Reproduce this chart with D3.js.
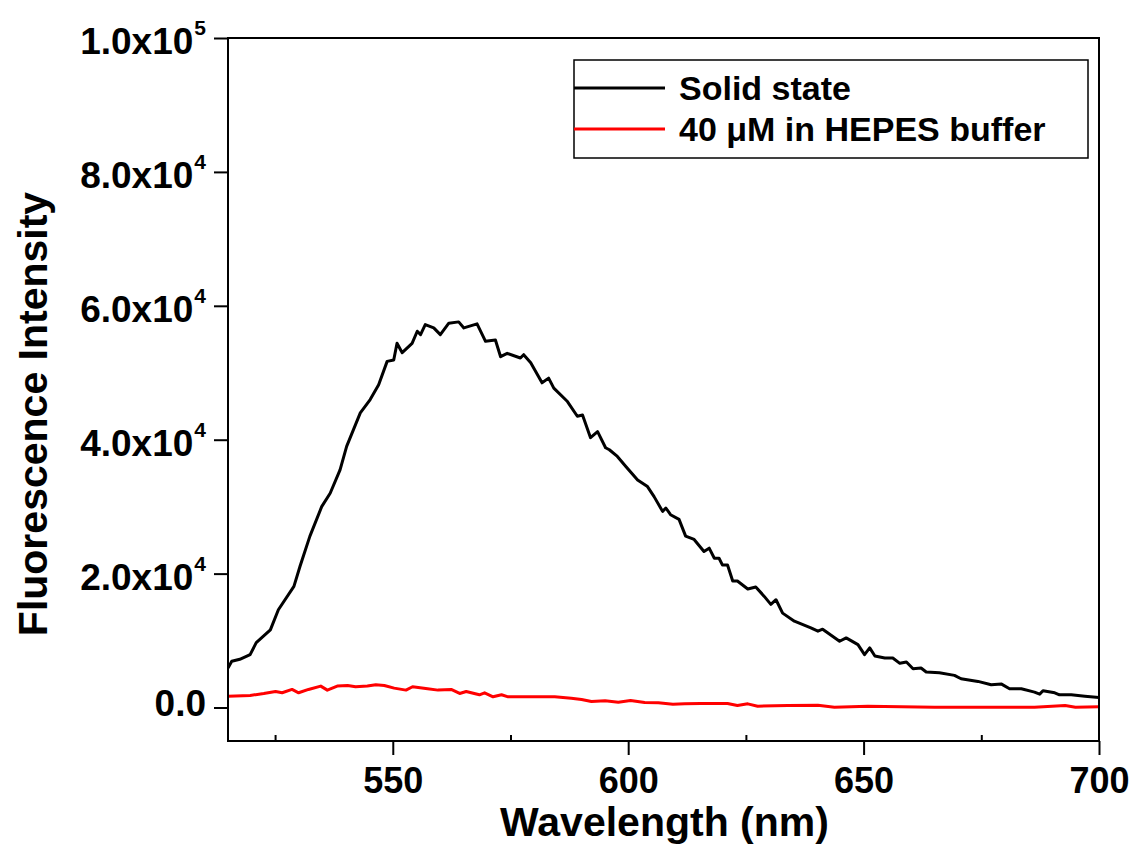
<!DOCTYPE html>
<html>
<head>
<meta charset="utf-8">
<script src="https://cdn.jsdelivr.net/npm/d3@7"></script>
<style>
  html, body { margin: 0; padding: 0; background: #fff; }
  svg { display: block; }
  text { font-family: "Liberation Sans", Arial, sans-serif; font-weight: bold; fill: #000; }
</style>
</head>
<body>
<svg id="chart" width="1137" height="849"></svg>
<script>
// ---- Data ----
const solidWavelength = [515,515.8,517.5,519.7,521,524,525.7,529,530.3,532.4,534.9,536.7,538.8,540.2,543.1,545.2,547,548.8,550.2,550.9,552,554.1,555.2,555.9,556.9,558.7,560.1,561.9,564,565.1,567.9,569.7,571.8,572.9,574.3,577.1,577.8,579.3,581.7,583.1,584.2,587.1,589.2,590.3,592,593.5,595.2,596,597.7,599.5,602,604.1,605.5,607.3,608,609,610.8,612.2,614,616.1,617.2,618.3,619.3,620,621.1,622.2,623.2,625.4,627.1,628.9,630.3,631.4,632.8,635.3,638.8,640.3,641.3,644.9,646.3,648.8,650.2,651.3,652.4,654.5,656.2,657.7,659.1,660.5,662.2,663.3,666.1,669.3,670.7,674.3,677.1,679.3,681,683.5,686.3,687.4,688.1,690.6,691.6,694.1,697,700];
const solidIntensity = [5900,6900,7200,7900,9700,11600,14600,18100,21100,25600,30000,32000,35500,39000,44000,46000,48200,51700,51900,54400,53000,54400,56200,55700,57200,56700,55700,57400,57600,56700,57300,54700,54900,52400,52900,52200,52700,51500,48500,49200,47700,45700,43500,43700,40300,41200,38800,38500,37500,36000,34000,33000,31500,29300,29800,28800,28100,25600,25100,23300,23800,22300,22300,21300,21300,18900,18900,17700,18000,16600,15400,16100,14100,12900,11900,11400,11700,9900,10400,9400,7900,8900,7700,7400,7400,6600,6800,5800,5900,5300,5200,4800,4300,3900,3400,3500,2800,2800,2300,2000,2500,2200,1900,1900,1700,1500];

const bufferWavelength = [515,519.7,522.6,525.1,526.5,528.6,530,532.1,534.7,536.1,538.2,540.4,542.1,544.6,546.4,548.2,550.3,552.8,554.2,557.4,559.6,562.4,564.2,565.6,568.4,569.5,571.3,573.1,574.5,579.4,584.4,587.9,590.1,592.2,595.1,597.9,600.5,603.5,606.4,609.5,612,615.4,621.1,623.2,625.4,627.5,633.9,640.3,643.8,650.9,658,665.1,672.2,679.3,686.3,692.8,695,700];
const bufferIntensity = [1700,1800,2100,2400,2200,2700,2200,2700,3200,2600,3200,3300,3100,3200,3400,3300,2900,2600,3100,2800,2600,2700,2100,2400,1900,2200,1600,1900,1600,1600,1600,1400,1200,900,1000,800,1050,750,700,500,550,600,600,300,550,200,300,350,50,200,100,50,50,50,50,300,50,100];

const seriesNames = ["Solid state", "40 \u03BCM in HEPES buffer"];
const seriesColors = ["#000000", "#ff0000"];

const xTicks = [550, 600, 650, 700];
const xMinorTicks = [525, 575, 625, 675];
const yTicks = [0, 20000, 40000, 60000, 80000, 100000];
const yTickMantissa = ["0.0", "2.0x10", "4.0x10", "6.0x10", "8.0x10", "1.0x10"];
const yTickExponent = ["", "4", "4", "4", "4", "5"];

const xTitle = "Wavelength (nm)";
const yTitle = "Fluorescence Intensity";

// ---- Layout ----
const svg = d3.select("#chart");
const L = 228, R = 1099, T = 38, B = 741;

const x = d3.scaleLinear().domain([515, 700]).range([L, R]);
const y = d3.scaleLinear().domain([-5000, 100000]).range([B, T]);

svg.append("rect").attr("width", 1137).attr("height", 849).attr("fill", "#fff");

svg.append("defs").append("clipPath").attr("id", "clip")
  .append("rect").attr("x", L).attr("y", T).attr("width", R - L).attr("height", B - T);

// ---- Lines ----
const series = [
  { wl: solidWavelength, v: solidIntensity, color: seriesColors[0] },
  { wl: bufferWavelength, v: bufferIntensity, color: seriesColors[1] }
];
const line = d3.line().x(d => x(d[0])).y(d => y(d[1]));
const gLines = svg.append("g").attr("clip-path", "url(#clip)");
series.forEach(s => {
  gLines.append("path")
    .datum(s.wl.map((w, i) => [w, s.v[i]]))
    .attr("d", line)
    .attr("fill", "none")
    .attr("stroke", s.color)
    .attr("stroke-width", 3)
    .attr("stroke-linejoin", "round");
});

// ---- Axes ----
const xAxis = svg.append("g").attr("transform", `translate(0,${B})`)
  .call(d3.axisBottom(x).tickValues(xTicks).tickSize(14).tickPadding(12).tickFormat(d3.format("d")));
xAxis.select(".domain").remove();
xAxis.selectAll(".tick line").attr("stroke", "#000").attr("stroke-width", 2);
xAxis.selectAll(".tick text").attr("font-size", 36).attr("font-family", "Liberation Sans, Arial, sans-serif")
  .attr("font-weight", "bold").attr("dy", "0.72em");

const xMinor = svg.append("g").attr("transform", `translate(0,${B})`)
  .call(d3.axisBottom(x).tickValues(xMinorTicks).tickSize(-6).tickFormat(""));
xMinor.select(".domain").remove();
xMinor.selectAll(".tick line").attr("stroke", "#000").attr("stroke-width", 2);

const yAxis = svg.append("g").attr("transform", `translate(${L},0)`)
  .call(d3.axisLeft(y).tickValues(yTicks).tickSize(14).tickFormat(""));
yAxis.select(".domain").remove();
yAxis.selectAll(".tick line").attr("stroke", "#000").attr("stroke-width", 2);

// y tick labels with superscripts
const yLab = svg.append("g");
yTicks.forEach((v, i) => {
  const t = yLab.append("text")
    .attr("x", 206)
    .attr("y", y(v) + (yTickExponent[i] ? 16 : 8))
    .attr("text-anchor", "end")
    .attr("font-size", 37);
  t.append("tspan").text(yTickMantissa[i]);
  if (yTickExponent[i]) {
    t.append("tspan").attr("font-size", 21).attr("dy", -19).attr("dx", 1).text(yTickExponent[i]);
  }
});

// frame
svg.append("rect").attr("x", L).attr("y", T).attr("width", R - L).attr("height", B - T)
  .attr("fill", "none").attr("stroke", "#000").attr("stroke-width", 2);

// ---- Titles ----
svg.append("text").attr("x", (L + R) / 2 + 1).attr("y", 836).attr("text-anchor", "middle")
  .attr("font-size", 41).text(xTitle);
svg.append("text").attr("transform", `translate(47,${414}) rotate(-90)`).attr("text-anchor", "middle")
  .attr("font-size", 41).text(yTitle);

// ---- Legend ----
const leg = svg.append("g");
leg.append("rect").attr("x", 574).attr("y", 60).attr("width", 514).attr("height", 98)
  .attr("fill", "#fff").attr("stroke", "#000").attr("stroke-width", 1.5);
const legY = [88, 129];
seriesNames.forEach((n, i) => {
  leg.append("line").attr("x1", 574).attr("x2", 665).attr("y1", legY[i]).attr("y2", legY[i])
    .attr("stroke", seriesColors[i]).attr("stroke-width", 3);
  leg.append("text").attr("x", 679).attr("y", legY[i] + 12).attr("font-size", 34).text(n);
});
</script>
</body>
</html>
